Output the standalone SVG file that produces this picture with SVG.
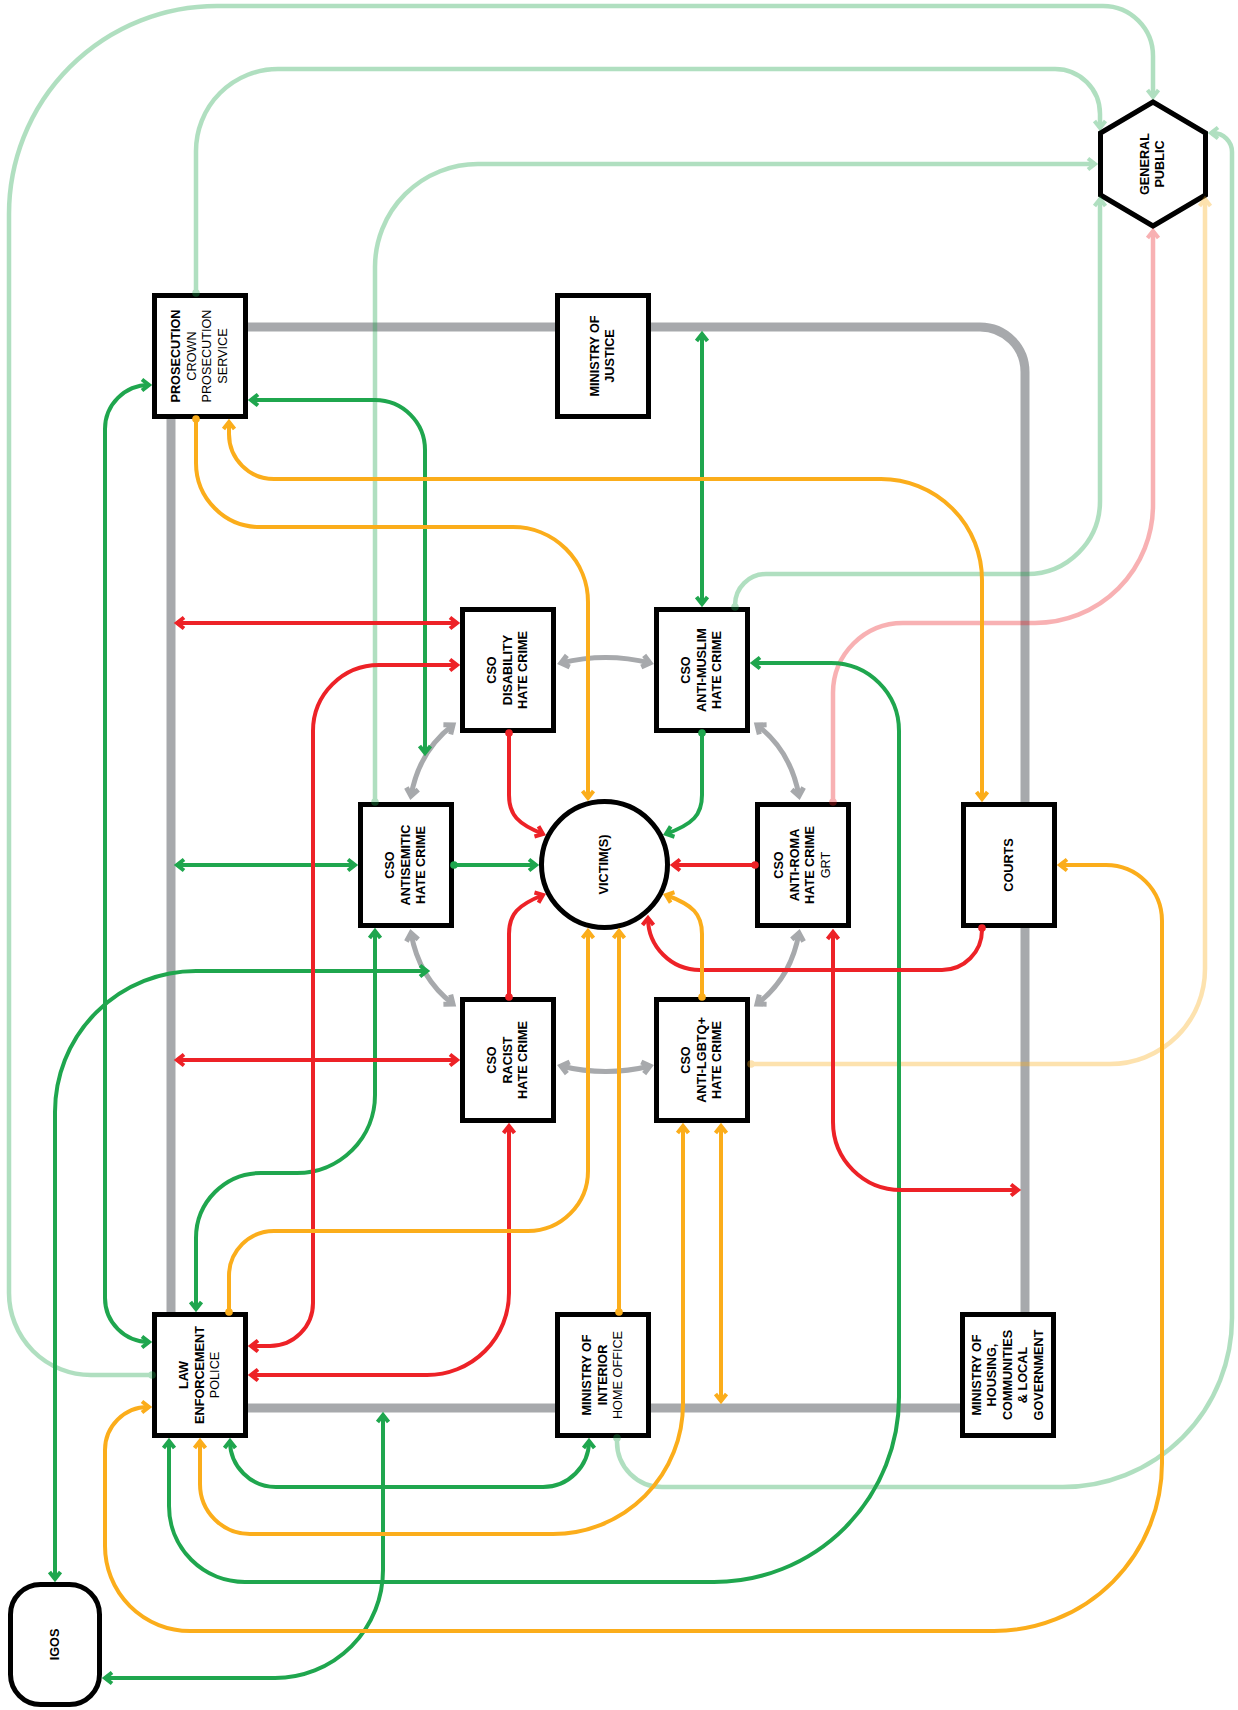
<svg xmlns="http://www.w3.org/2000/svg" width="1238" height="1710" viewBox="0 0 1238 1710">
<style>
.n{fill:#fff;stroke:#000;stroke-width:5}
.t{font-family:"Liberation Sans",Arial,Helvetica,sans-serif;font-size:12.7px;font-weight:700;fill:#000;text-anchor:middle}
.r{font-weight:400}
.c{fill:none;stroke-width:4}
.bb{fill:none;stroke:#a7a9ac;stroke-width:9}
.gs{fill:none;stroke:#a7a9ac;stroke-width:5;marker-start:url(#aY);marker-end:url(#aY)}
.g{stroke:#1fa64e}
.rd{stroke:#ed2227}
.o{stroke:#fbad1b}
.lt{opacity:0.35;stroke-width:4.5}
.G2{marker-start:url(#aG);marker-end:url(#aG)}
.G1{marker-start:url(#dG);marker-end:url(#aG)}
.R2{marker-start:url(#aR);marker-end:url(#aR)}
.R1{marker-start:url(#dR);marker-end:url(#aR)}
.O2{marker-start:url(#aO);marker-end:url(#aO)}
.O1{marker-start:url(#dO);marker-end:url(#aO)}
</style>
<defs>
<marker id="aG" markerUnits="userSpaceOnUse" overflow="visible" orient="auto-start-reverse"><path d="M-7,-5.5L0,0L-7,5.5" fill="none" stroke="#1fa64e" stroke-width="4"/></marker>
<marker id="aR" markerUnits="userSpaceOnUse" overflow="visible" orient="auto-start-reverse"><path d="M-7,-5.5L0,0L-7,5.5" fill="none" stroke="#ed2227" stroke-width="4"/></marker>
<marker id="aO" markerUnits="userSpaceOnUse" overflow="visible" orient="auto-start-reverse"><path d="M-7,-5.5L0,0L-7,5.5" fill="none" stroke="#fbad1b" stroke-width="4"/></marker>
<marker id="aY" markerUnits="userSpaceOnUse" overflow="visible" orient="auto-start-reverse"><path d="M-7.5,-6L0,0L-7.5,6" fill="none" stroke="#a7a9ac" stroke-width="5"/></marker>
<marker id="dG" markerUnits="userSpaceOnUse" overflow="visible"><circle r="3.8" fill="#1fa64e"/></marker>
<marker id="dR" markerUnits="userSpaceOnUse" overflow="visible"><circle r="3.8" fill="#ed2227"/></marker>
<marker id="dO" markerUnits="userSpaceOnUse" overflow="visible"><circle r="3.8" fill="#fbad1b"/></marker>
</defs>
<rect width="1238" height="1710" fill="#fff"/>

<g id="prosecution"><rect class="n" x="154.5" y="295.5" width="91" height="121"/>
<text class="t" transform="translate(199,356) rotate(-90)"><tspan x="0" y="-18.75">PROSECUTION</tspan><tspan class="r" x="0" y="-3.25">CROWN</tspan><tspan class="r" x="0" y="12.25">PROSECUTION</tspan><tspan class="r" x="0" y="27.75">SERVICE</tspan></text></g>
<g id="ministry-of-justice"><rect class="n" x="557.5" y="295.5" width="91" height="121"/>
<text class="t" transform="translate(602,356) rotate(-90)"><tspan x="0" y="-3.25">MINISTRY OF</tspan><tspan x="0" y="12.25">JUSTICE</tspan></text></g>
<g id="general-public"><polygon class="n" points="1153,102 1205.5,133 1205.5,195 1153,226 1100.5,195 1100.5,133"/>
<text class="t" transform="translate(1152,164) rotate(-90)"><tspan x="0" y="-3.25">GENERAL</tspan><tspan x="0" y="12.25">PUBLIC</tspan></text></g>
<g id="cso-disability"><rect class="n" x="462.5" y="609.5" width="91" height="121"/>
<text class="t" transform="translate(507,670) rotate(-90)"><tspan x="0" y="-11">CSO</tspan><tspan x="0" y="4.5">DISABILITY</tspan><tspan x="0" y="20">HATE CRIME</tspan></text></g>
<g id="cso-anti-muslim"><rect class="n" x="656.5" y="609.5" width="91" height="121"/>
<text class="t" transform="translate(701,670) rotate(-90)"><tspan x="0" y="-11">CSO</tspan><tspan x="0" y="4.5">ANTI-MUSLIM</tspan><tspan x="0" y="20">HATE CRIME</tspan></text></g>
<g id="cso-antisemitic"><rect class="n" x="360.5" y="804.5" width="91" height="121"/>
<text class="t" transform="translate(405,865) rotate(-90)"><tspan x="0" y="-11">CSO</tspan><tspan x="0" y="4.5">ANTISEMITIC</tspan><tspan x="0" y="20">HATE CRIME</tspan></text></g>
<g id="victims"><circle class="n" cx="604.5" cy="864.5" r="63"/>
<text class="t" transform="translate(603.5,864.5) rotate(-90)"><tspan x="0" y="4.5">VICTIM(S)</tspan></text></g>
<g id="cso-anti-roma"><rect class="n" x="757.5" y="804.5" width="91" height="121"/>
<text class="t" transform="translate(802,865) rotate(-90)"><tspan x="0" y="-18.75">CSO</tspan><tspan x="0" y="-3.25">ANTI-ROMA</tspan><tspan x="0" y="12.25">HATE CRIME</tspan><tspan class="r" x="0" y="27.75">GRT</tspan></text></g>
<g id="courts"><rect class="n" x="963.5" y="804.5" width="91" height="121"/>
<text class="t" transform="translate(1008,865) rotate(-90)"><tspan x="0" y="4.5">COURTS</tspan></text></g>
<g id="cso-racist"><rect class="n" x="462.5" y="999.5" width="91" height="121"/>
<text class="t" transform="translate(507,1060) rotate(-90)"><tspan x="0" y="-11">CSO</tspan><tspan x="0" y="4.5">RACIST</tspan><tspan x="0" y="20">HATE CRIME</tspan></text></g>
<g id="cso-anti-lgbtq"><rect class="n" x="656.5" y="999.5" width="91" height="121"/>
<text class="t" transform="translate(701,1060) rotate(-90)"><tspan x="0" y="-11">CSO</tspan><tspan x="0" y="4.5">ANTI-LGBTQ+</tspan><tspan x="0" y="20">HATE CRIME</tspan></text></g>
<g id="law-enforcement"><rect class="n" x="154.5" y="1314.5" width="91" height="121"/>
<text class="t" transform="translate(199,1375) rotate(-90)"><tspan x="0" y="-11">LAW</tspan><tspan x="0" y="4.5">ENFORCEMENT</tspan><tspan class="r" x="0" y="20">POLICE</tspan></text></g>
<g id="ministry-of-interior"><rect class="n" x="557.5" y="1314.5" width="91" height="121"/>
<text class="t" transform="translate(602,1375) rotate(-90)"><tspan x="0" y="-11">MINISTRY OF</tspan><tspan x="0" y="4.5">INTERIOR</tspan><tspan class="r" x="0" y="20">HOME OFFICE</tspan></text></g>
<g id="ministry-of-housing"><rect class="n" x="962.5" y="1314.5" width="91" height="121"/>
<text class="t" transform="translate(1007,1375) rotate(-90)"><tspan x="0" y="-26.5">MINISTRY OF</tspan><tspan x="0" y="-11">HOUSING,</tspan><tspan x="0" y="4.5">COMMUNITIES</tspan><tspan x="0" y="20">&amp; LOCAL</tspan><tspan x="0" y="35.5">GOVERNMENT</tspan></text></g>
<g id="igos"><rect class="n" x="10.5" y="1584.5" width="89" height="120" rx="30"/>
<text class="t" transform="translate(54,1644.5) rotate(-90)"><tspan x="0" y="4.5">IGOS</tspan></text></g>

<g id="connectors">
<path class="bb" d="M248,327H555M651,327H980A45,45 0 0 1 1025,372V802M1025,928V1312M171,419V1312M248,1408H555M651,1408H960"/>
<path class="gs" d="M561,663Q606,652 650,663"/>
<path class="gs" d="M561,1066Q606,1077 650,1066"/>
<path class="gs" d="M411,796Q419,751 453,725"/>
<path class="gs" d="M411,933Q419,978 453,1004"/>
<path class="gs" d="M799,796Q791,751 757,725"/>
<path class="gs" d="M799,933Q791,978 757,1004"/>

<path class="c g G1 lt" d="M152,1375H91A82,82 0 0 1 9,1293V214A208,208 0 0 1 217,6H1103A50,50 0 0 1 1153,56V97"/>
<path class="c g G1 lt" d="M196,293V151A82,82 0 0 1 278,69H1055A45,45 0 0 1 1100,114V128"/>
<path class="c g G1 lt" d="M375,802V267A103,103 0 0 1 478,164H1095"/>
<path class="c g G1 lt" d="M735,607V605A31,31 0 0 1 766,574H1027A73,73 0 0 0 1100,501V199"/>
<path class="c g G1 lt" d="M617,1438V1442A45,45 0 0 0 662,1487H1063A169,169 0 0 0 1232,1318V152A19,19 0 0 0 1213,133H1211"/>
<path class="c rd R1 lt" d="M833,802V693A70,70 0 0 1 903,623H1035A118,118 0 0 0 1153,505V231"/>
<path class="c o O1 lt" d="M751,1064H1110A95,95 0 0 0 1205,969V199"/>

<path class="c g G2" d="M702,334V604"/>
<path class="c g G1" d="M702,733V795C702,815 693,824 666,834"/>
<path class="c g G1" d="M454,865H536"/>
<path class="c g G2" d="M177,865H355"/>
<path class="c g G2" d="M251,400H375A50,50 0 0 1 425,450V753"/>
<path class="c g G2" d="M149,1342A44,44 0 0 1 105,1298V429A44,44 0 0 1 149,385"/>
<path class="c g G2" d="M427,971H196A141,141 0 0 0 55,1112V1579"/>
<path class="c g G2" d="M375,931V1095A78,78 0 0 1 297,1173H261A65,65 0 0 0 196,1238V1309"/>
<path class="c g G2" d="M753,663H831A68,68 0 0 1 899,731V1397A185,185 0 0 1 714,1582H245A76,76 0 0 1 169,1506V1441"/>
<path class="c g G2" d="M230,1441A46,46 0 0 0 276,1487H543A46,46 0 0 0 589,1441"/>
<path class="c g G2" d="M105,1678H275A108,108 0 0 0 383,1570V1415"/>

<path class="c rd R1" d="M982,928V930A40,40 0 0 1 942,970H700A52,52 0 0 1 648,918"/>
<path class="c rd R1" d="M755,865H673"/>
<path class="c rd R2" d="M833,932V1122A68,68 0 0 0 901,1190H1018"/>
<path class="c rd R1" d="M509,733V795C509,815 518,824 543,834"/>
<path class="c rd R1" d="M509,997V934C509,914 518,905 543,895"/>
<path class="c rd R2" d="M177,623H457"/>
<path class="c rd R2" d="M457,665H379A66,66 0 0 0 313,731V1303A43,43 0 0 1 270,1346H251"/>
<path class="c rd R2" d="M177,1060H457"/>
<path class="c rd R2" d="M509,1126V1293A82,82 0 0 1 427,1375H251"/>

<path class="c o O1" d="M196,419V463A64,64 0 0 0 260,527H513A75,75 0 0 1 588,602V798"/>
<path class="c o O2" d="M229,422V434A45,45 0 0 0 274,479H881A101,101 0 0 1 982,580V799"/>
<path class="c o O2" d="M1060,865H1106A56,56 0 0 1 1162,921V1463A168,168 0 0 1 994,1631H190A85,85 0 0 1 105,1546V1450A43,43 0 0 1 148,1407H149"/>
<path class="c o O1" d="M229,1312V1276A45,45 0 0 1 274,1231H528A60,60 0 0 0 588,1171V931"/>
<path class="c o O1" d="M619,1312V931"/>
<path class="c o O2" d="M200,1441V1484A50,50 0 0 0 250,1534H553A130,130 0 0 0 683,1404V1126"/>
<path class="c o O2" d="M721,1126V1401"/>
<path class="c o O1" d="M702,997V934C702,914 693,905 666,895"/>
</g>
</svg>
